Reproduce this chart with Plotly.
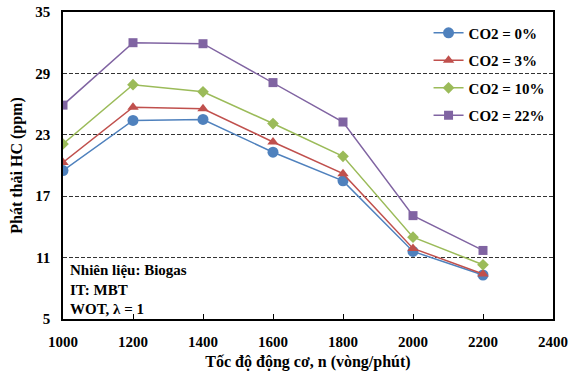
import plotly.graph_objects as go

rpm = [1000, 1200, 1400, 1600, 1800, 2000, 2200]
hc_0 = [19.5, 24.4, 24.5, 21.3, 18.5, 11.6, 9.3]
hc_3 = [20.3, 25.7, 25.55, 22.3, 19.2, 11.9, 9.4]
hc_10 = [22.1, 27.9, 27.2, 24.1, 20.9, 13.0, 10.3]
hc_22 = [25.9, 32.0, 31.9, 28.1, 24.25, 15.1, 11.7]
names = ["CO2 = 0%", "CO2 = 3%", "CO2 = 10%", "CO2 = 22%"]
colors = ["#4F81BD", "#C0504D", "#9BBB59", "#8064A2"]
symbols = ["circle", "triangle-up", "diamond", "square"]
sizes = [11, 10, 9, 9]
y_ticks = [5, 11, 17, 23, 29, 35]
x_ticks = [1000, 1200, 1400, 1600, 1800, 2000, 2200, 2400]

FAM = "Liberation Serif"

fig = go.Figure()
for i, ys in enumerate([hc_0, hc_3, hc_10, hc_22]):
    fig.add_trace(go.Scatter(
        x=rpm, y=ys, name=f"<b>{names[i]}</b>", mode="lines+markers",
        legendgroup=str(i),
        line=dict(color=colors[i], width=1.5),
        marker=dict(symbol=symbols[i], size=sizes[i], color=colors[i]),
    ))

fig.update_layout(
    width=572, height=374,
    margin=dict(l=63, r=19, t=12, b=55, autoexpand=False),
    paper_bgcolor="white", plot_bgcolor="white",
    font=dict(family=FAM, size=15, color="black"),
    legend=dict(x=0.995, y=0.985, xanchor="right", yanchor="top",
                bgcolor="rgba(0,0,0,0)", font=dict(family=FAM, size=15, color="black"),
                traceorder="grouped", tracegroupgap=5, itemwidth=30),
    xaxis=dict(range=[1000, 2400], tickvals=x_ticks, ticktext=[f"<b>{v}</b>" for v in x_ticks],
               ticks="inside", ticklen=5, tickcolor="black", ticklabelstandoff=8,
               tickfont=dict(family=FAM, size=15, color="black"), automargin=False,
               showline=True, linecolor="black", linewidth=1.5, mirror=True,
               showgrid=False, zeroline=False,
               title=dict(text="<b>Tốc độ động cơ, n (vòng/phút)</b>", standoff=7,
                          font=dict(family=FAM, size=16, color="black"))),
    yaxis=dict(range=[5, 35], tickvals=y_ticks, ticktext=[f"<b>{v}</b>" for v in y_ticks],
               ticks="inside", ticklen=0, tickcolor="black", ticklabelstandoff=8,
               tickfont=dict(family=FAM, size=15, color="black"), automargin=False,
               showline=True, linecolor="black", linewidth=1.5, mirror=True,
               showgrid=True, gridcolor="#333333", griddash="4px,2px", gridwidth=1,
               zeroline=False,
               title=dict(text="<b>Phát thải HC (ppm)</b>", standoff=9,
                          font=dict(family=FAM, size=16, color="black"))),
)

fig.add_annotation(
    xref="paper", yref="paper", x=0.01, y=0.0, xanchor="left", yanchor="bottom",
    text="<b>Nhiên liệu: Biogas</b><br><b>IT: MBT</b><br><b>WOT, λ = 1</b>",
    showarrow=False, align="left",
    font=dict(family=FAM, size=15, color="black"),
)

fig.write_html("out.html")
